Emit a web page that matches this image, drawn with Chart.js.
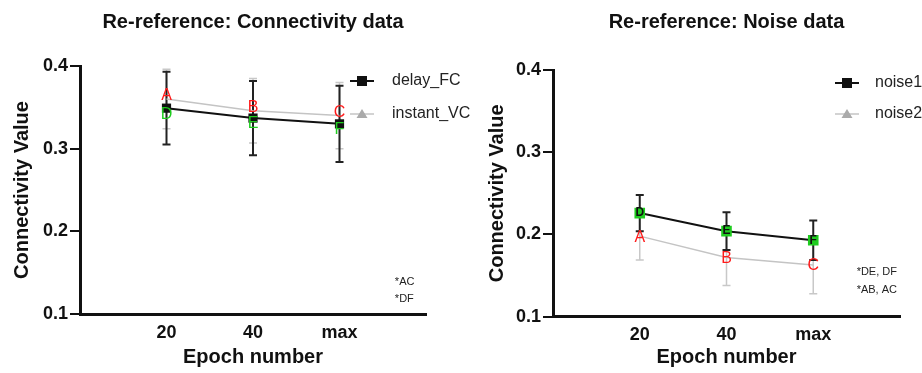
<!DOCTYPE html>
<html lang="en">
<head>
<meta charset="UTF-8">
<title>Re-reference</title>
<script src="https://cdn.jsdelivr.net/npm/chart.js"></script>
<style>
  body { margin: 0; background: #fff; }
  .wrap { position: relative; width: 922px; height: 373px; overflow: hidden; }
  .panel { position: absolute; top: 0; height: 373px; }
  #left { left: 0; width: 490px; }
  #right { left: 460px; width: 462px; }
</style>
</head>
<body>
<div class="wrap">
  <div class="panel" id="left"><canvas id="connChart" width="490" height="373"></canvas></div>
  <div class="panel" id="right"><canvas id="noiseChart" width="462" height="373"></canvas></div>
</div>
<script>
const epochs = ['20', '40', 'max'];

// connectivity panel (mean and error half-width)
const delayFC = [0.349, 0.337, 0.330];
const delayFCErr = [0.044, 0.045, 0.046];
const instantVC = [0.360, 0.346, 0.340];
const instantVCErr = [0.036, 0.039, 0.040];

// noise panel
const noise1 = [0.226, 0.204, 0.193];
const noise1Err = [0.022, 0.023, 0.024];
const noise2 = [0.198, 0.172, 0.163];
const noise2Err = [0.029, 0.034, 0.035];

const FONT = 'Arial, "Liberation Sans", Helvetica, sans-serif';
const BLACK = '#111';
const GREY = '#c4c4c4';
const RED = '#ff1a1a';
const GREEN = '#1fcc1f';

function pts(arr) { return arr.map((v, i) => ({ x: i, y: v })); }

// error bars, letters, legend and notes
const extras = {
  id: 'extras',
  beforeDatasetsDraw(chart, args, opts) {
    const ctx = chart.ctx, xs = chart.scales.x, ys = chart.scales.y;
    for (let d = chart.data.datasets.length - 1; d >= 0; d--) {
      const ds = chart.data.datasets[d];
      const err = opts.errors[d];
      ctx.save();
      ctx.strokeStyle = ds.errColor;
      ctx.lineWidth = ds.errWidth;
      ds.data.forEach((p, j) => {
        const x = xs.getPixelForValue(p.x);
        const y1 = ys.getPixelForValue(p.y + err[j]);
        const y2 = ys.getPixelForValue(p.y - err[j]);
        ctx.beginPath();
        ctx.moveTo(x, y1); ctx.lineTo(x, y2);
        ctx.moveTo(x - 4, y1); ctx.lineTo(x + 4, y1);
        ctx.moveTo(x - 4, y2); ctx.lineTo(x + 4, y2);
        ctx.stroke();
      });
      ctx.restore();
    }
  },
  afterDatasetsDraw(chart, args, opts) {
    const ctx = chart.ctx, xs = chart.scales.x, ys = chart.scales.y;
    ctx.save();
    ctx.textAlign = 'center';
    ctx.textBaseline = 'middle';
    opts.letters.forEach(l => {
      ctx.fillStyle = l.color;
      ctx.font = l.font;
      chart.data.datasets[l.dataset].data.forEach((p, j) => {
        ctx.fillText(l.text[j], xs.getPixelForValue(p.x), ys.getPixelForValue(p.y) + l.dy);
      });
    });
    ctx.restore();
  },
  afterDraw(chart, args, opts) {
    const ctx = chart.ctx, area = chart.chartArea;
    const xs = chart.scales.x, ys = chart.scales.y;
    const lg = opts.legend;
    ctx.save();
    chart.data.datasets.forEach((ds, i) => {
      const cx = area.right - lg.markerDx;
      const cy = area.top + lg.rows[i];
      ctx.strokeStyle = ds.borderColor;
      ctx.lineWidth = ds.borderWidth;
      ctx.beginPath();
      ctx.moveTo(cx - 12, cy); ctx.lineTo(cx + 12, cy);
      ctx.stroke();
      ctx.fillStyle = ds.legendMarkerColor;
      ctx.beginPath();
      if (ds.legendMarker === 'rect') {
        ctx.rect(cx - 5, cy - 5, 10, 10);
      } else {
        ctx.moveTo(cx, cy - 5); ctx.lineTo(cx + 5.5, cy + 4); ctx.lineTo(cx - 5.5, cy + 4); ctx.closePath();
      }
      ctx.fill();
      ctx.fillStyle = '#222';
      ctx.font = '16px ' + FONT;
      ctx.textAlign = 'left';
      ctx.textBaseline = 'middle';
      ctx.fillText(ds.label, area.right - lg.textDx, cy);
    });
    ctx.fillStyle = '#222';
    ctx.font = '11px ' + FONT;
    ctx.textAlign = 'left';
    ctx.textBaseline = 'middle';
    opts.notes.forEach(n => {
      ctx.fillText(n.text, xs.getPixelForValue(n.x), ys.getPixelForValue(n.y));
    });
    ctx.restore();
  }
};

function makeOptions(cfg) {
  return {
    responsive: false,
    animation: false,
    layout: { padding: { left: 0, right: cfg.padRight, top: 0, bottom: 0 } },
    plugins: {
      legend: { display: false },
      tooltip: { enabled: false },
      title: {
        display: true, text: cfg.title, fullSize: false, color: BLACK,
        font: { family: FONT, size: 20, weight: 'bold' },
        padding: { top: 10, bottom: cfg.titleBottom }
      },
      extras: { errors: cfg.errors, letters: cfg.letters, legend: cfg.legend, notes: cfg.notes }
    },
    scales: {
      x: {
        type: 'linear', min: -1, max: 3,
        afterFit: s => { s.height = cfg.xHeight; },
        grid: { display: false },
        border: { display: true, color: BLACK, width: 3 },
        ticks: {
          stepSize: 1, autoSkip: false, padding: 0, color: BLACK,
          font: { family: FONT, size: 18, weight: 'bold' },
          callback: v => epochs[v] ?? ''
        },
        title: {
          display: true, text: 'Epoch number', color: BLACK,
          font: { family: FONT, size: 20, weight: 'bold' },
          padding: { top: 0, bottom: 3.6 }
        }
      },
      y: {
        min: 0.1, max: 0.4,
        afterFit: s => { s.width = cfg.yWidth; },
        grid: { drawOnChartArea: false, drawTicks: true, tickLength: 10, color: BLACK, lineWidth: 2 },
        border: { display: true, color: BLACK, width: 3 },
        ticks: {
          stepSize: 0.1, padding: 2, color: BLACK,
          font: { family: FONT, size: 18, weight: 'bold' },
          callback: v => v.toFixed(1)
        },
        title: {
          display: true, text: 'Connectivity Value', color: BLACK,
          font: { family: FONT, size: 20, weight: 'bold' },
          padding: { top: cfg.yTitlePad, bottom: 0 }
        }
      }
    }
  };
}

new Chart(document.getElementById('connChart'), {
  type: 'line',
  data: {
    datasets: [
      {
        label: 'delay_FC', data: pts(delayFC), borderColor: BLACK, borderWidth: 2,
        pointStyle: 'rect', pointRadius: 6.5, pointBackgroundColor: BLACK, pointBorderWidth: 0,
        errColor: '#222', errWidth: 2, legendMarker: 'rect', legendMarkerColor: BLACK
      },
      {
        label: 'instant_VC', data: pts(instantVC), borderColor: GREY, borderWidth: 1.5,
        pointRadius: 0, errColor: '#c8c8c8', errWidth: 1.5,
        legendMarker: 'triangle', legendMarkerColor: '#aaa'
      }
    ]
  },
  options: makeOptions({
    title: 'Re-reference: Connectivity data', padRight: 64, titleBottom: 32,
    xHeight: 59, yWidth: 80, yTitlePad: 10.6,
    errors: [delayFCErr, instantVCErr],
    letters: [
      { dataset: 1, text: ['A', 'B', 'C'], color: RED, font: '16px ' + FONT, dy: -3 },
      { dataset: 0, text: ['D', 'E', 'F'], color: GREEN, font: '16px ' + FONT, dy: 6 }
    ],
    legend: { markerDx: 64, textDx: 34, rows: [15, 48] },
    notes: [{ x: 2.64, y: 0.139, text: '*AC' }, { x: 2.64, y: 0.118, text: '*DF' }]
  }),
  plugins: [extras]
});

new Chart(document.getElementById('noiseChart'), {
  type: 'line',
  data: {
    datasets: [
      {
        label: 'noise1', data: pts(noise1), borderColor: BLACK, borderWidth: 2,
        pointStyle: 'rect', pointRadius: 7.5, pointBackgroundColor: GREEN, pointBorderWidth: 0,
        errColor: '#222', errWidth: 2, legendMarker: 'rect', legendMarkerColor: BLACK
      },
      {
        label: 'noise2', data: pts(noise2), borderColor: GREY, borderWidth: 1.5,
        pointRadius: 0, errColor: '#c8c8c8', errWidth: 1.5,
        legendMarker: 'triangle', legendMarkerColor: '#aaa'
      }
    ]
  },
  options: makeOptions({
    title: 'Re-reference: Noise data', padRight: 22, titleBottom: 36,
    xHeight: 56.3, yWidth: 93, yTitlePad: 25.3,
    errors: [noise1Err, noise2Err],
    letters: [
      { dataset: 1, text: ['A', 'B', 'C'], color: RED, font: '16px ' + FONT, dy: 1 },
      { dataset: 0, text: ['D', 'E', 'F'], color: BLACK, font: 'bold 12px ' + FONT, dy: 0 }
    ],
    legend: { markerDx: 53, textDx: 25, rows: [13, 44] },
    notes: [{ x: 2.5, y: 0.154, text: '*DE, DF' }, { x: 2.5, y: 0.132, text: '*AB, AC' }]
  }),
  plugins: [extras]
});
</script>
</body>
</html>
